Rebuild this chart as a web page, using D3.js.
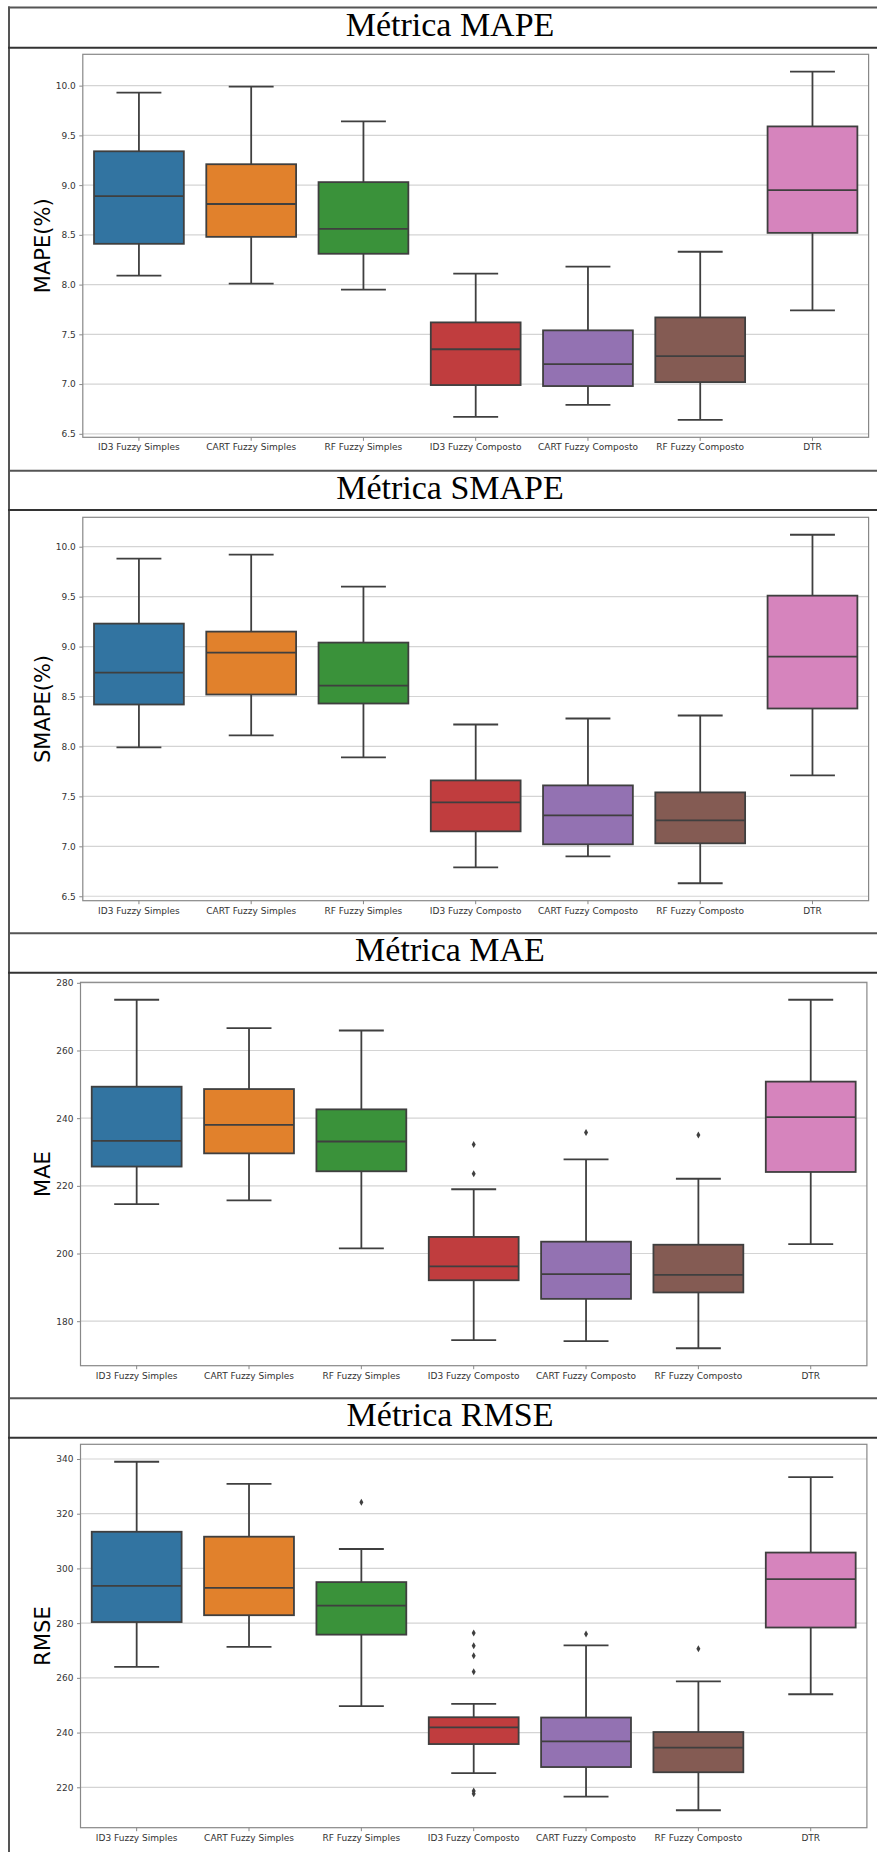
<!DOCTYPE html>
<html>
<head>
<meta charset="utf-8">
<script src="https://cdn.jsdelivr.net/npm/d3@7"></script>
<style>
body { margin: 0; background: #fff; }
svg text { font-family: "DejaVu Sans", sans-serif; }
</style>
</head>
<body>
<svg id="chart" width="877" height="1852"></svg>
<script>
// categories and colours (seaborn deep, desaturated)
var categories = ["ID3 Fuzzy Simples", "CART Fuzzy Simples", "RF Fuzzy Simples",
                  "ID3 Fuzzy Composto", "CART Fuzzy Composto", "RF Fuzzy Composto", "DTR"];
var palette = ["#3274a1", "#e1812c", "#3a923a", "#c03d3e", "#9372b2", "#845b53", "#d684bd"];

var metricTitles = ["Métrica MAPE", "Métrica SMAPE", "Métrica MAE", "Métrica RMSE"];
var metricLabels = ["MAPE(%)", "SMAPE(%)", "MAE", "RMSE"];

// each row: [lower whisker, Q1, median, Q3, upper whisker]
var mapeStats = [
    [8.09, 8.41, 8.89, 9.34, 9.93],
    [8.01, 8.48, 8.81, 9.21, 9.99],
    [7.95, 8.31, 8.56, 9.03, 9.64],
    [6.67, 6.99, 7.35, 7.62, 8.11],
    [6.79, 6.98, 7.20, 7.54, 8.18],
    [6.64, 7.02, 7.28, 7.67, 8.33],
    [7.74, 8.52, 8.95, 9.59, 10.14]
];
var mapeOutliers = [];   // [category index, value]
var mapeTicks = ["6.5", "7.0", "7.5", "8.0", "8.5", "9.0", "9.5", "10.0"];

var smapeStats = [
    [7.99, 8.42, 8.74, 9.23, 9.88],
    [8.11, 8.52, 8.94, 9.15, 9.92],
    [7.89, 8.43, 8.61, 9.04, 9.60],
    [6.79, 7.15, 7.44, 7.66, 8.22],
    [6.90, 7.02, 7.31, 7.61, 8.28],
    [6.63, 7.03, 7.26, 7.54, 8.31],
    [7.71, 8.38, 8.90, 9.51, 10.12]
];
var smapeOutliers = [];
var smapeTicks = ["6.5", "7.0", "7.5", "8.0", "8.5", "9.0", "9.5", "10.0"];

var maeStats = [
    [214.6, 225.7, 233.3, 249.3, 275.0],
    [215.7, 229.6, 238.0, 248.6, 266.6],
    [201.5, 224.3, 233.1, 242.6, 265.9],
    [174.4, 192.1, 196.2, 204.9, 219.0],
    [174.1, 186.6, 193.9, 203.5, 227.8],
    [172.0, 188.5, 193.7, 202.6, 222.1],
    [202.8, 224.1, 240.3, 250.8, 275.0]
];
var maeOutliers = [[3, 232.2], [3, 223.6], [4, 235.8], [5, 235.0]];
var maeTicks = ["180", "200", "220", "240", "260", "280"];

var rmseStats = [
    [264.0, 280.4, 293.6, 313.4, 339.0],
    [271.3, 282.9, 292.9, 311.6, 330.9],
    [249.7, 275.8, 286.4, 295.0, 307.1],
    [225.2, 235.8, 241.9, 245.6, 250.5],
    [216.6, 227.4, 236.8, 245.5, 271.9],
    [211.6, 225.5, 234.5, 240.2, 258.7],
    [254.0, 278.4, 296.1, 305.8, 333.4]
];
var rmseOutliers = [[2, 324.2], [3, 276.4], [3, 271.7], [3, 268.1], [3, 262.2],
                    [3, 218.6], [3, 217.6], [4, 276.0], [5, 270.6]];
var rmseTicks = ["220", "240", "260", "280", "300", "320", "340"];

var allStats = [mapeStats, smapeStats, maeStats, rmseStats];
var allOutliers = [mapeOutliers, smapeOutliers, maeOutliers, rmseOutliers];
var allTicks = [mapeTicks, smapeTicks, maeTicks, rmseTicks];

// page layout of the four framed panels
var panels = [
    {top: 7.5,   sep: 47.7,   y0: 54.3,   y1: 437.3,  x0: 82.8, x1: 868.6},
    {top: 470.7, sep: 510.0,  y0: 517.3,  y1: 900.7,  x0: 82.8, x1: 868.6},
    {top: 933.2, sep: 972.7,  y0: 982.3,  y1: 1365.7, x0: 80.5, x1: 866.9},
    {top: 1398.3, sep: 1437.7, y0: 1444.3, y1: 1827.7, x0: 80.5, x1: 866.9}
];

var lineCol = "#3f3f3f";
var svg = d3.select("#chart");

// outer table-like frame
svg.append("line")
    .attr("x1", 9).attr("x2", 9).attr("y1", 6.5).attr("y2", 1852)
    .attr("stroke", "#555").attr("stroke-width", 2);

function drawPanel(i) {
    var p = panels[i];
    var stats = allStats[i];
    var outliers = allOutliers[i];
    var ticks = allTicks[i].map(Number);

    svg.append("line")
        .attr("x1", 8).attr("x2", 877).attr("y1", p.top).attr("y2", p.top)
        .attr("stroke", "#555").attr("stroke-width", 2);
    svg.append("line")
        .attr("x1", 8).attr("x2", 877).attr("y1", p.sep).attr("y2", p.sep)
        .attr("stroke", "#333").attr("stroke-width", 2);

    svg.append("text")
        .attr("x", 450).attr("y", p.sep - 11.5)
        .attr("text-anchor", "middle")
        .style("font-family", "'Liberation Serif', serif")
        .style("font-size", "34px")
        .attr("fill", "#000")
        .text(metricTitles[i]);

    // y domain like seaborn: data range padded by 5%
    var vals = [];
    stats.forEach(function(s) { vals.push(s[0], s[4]); });
    outliers.forEach(function(o) { vals.push(o[1]); });
    var lo = d3.min(vals), hi = d3.max(vals), pad = (hi - lo) * 0.05;

    var x = d3.scaleBand().domain(categories).range([p.x0, p.x1]).padding(0);
    var y = d3.scaleLinear().domain([lo - pad, hi + pad]).range([p.y1, p.y0]);

    var g = svg.append("g");

    // grid
    g.selectAll(".grid").data(ticks).enter().append("line")
        .attr("x1", p.x0).attr("x2", p.x1)
        .attr("y1", function(d) { return y(d); })
        .attr("y2", function(d) { return y(d); })
        .attr("stroke", "#d4d4d4").attr("stroke-width", 1.2);

    // axes
    var yAxis = d3.axisLeft(y).tickValues(ticks)
        .tickFormat(function(d, k) { return allTicks[i][k]; })
        .tickSize(3.5).tickPadding(3.5);
    var ya = g.append("g").attr("transform", "translate(" + p.x0 + ",0)").call(yAxis);
    var xa = g.append("g").attr("transform", "translate(0," + p.y1 + ")")
        .call(d3.axisBottom(x).tickSize(3.5).tickPadding(3));
    [ya, xa].forEach(function(a) {
        a.select(".domain").remove();
        a.selectAll(".tick line").attr("stroke", "#888");
        a.selectAll(".tick text").attr("fill", "#333").style("font-size", "9px");
    });

    g.append("rect")
        .attr("x", p.x0).attr("y", p.y0)
        .attr("width", p.x1 - p.x0).attr("height", p.y1 - p.y0)
        .attr("fill", "none").attr("stroke", "#888").attr("stroke-width", 1.2);

    var bw = x.bandwidth() * 0.8;
    var boxes = g.selectAll(".box").data(stats).enter().append("g")
        .attr("transform", function(d, k) {
            return "translate(" + (x(categories[k]) + x.bandwidth() / 2) + ",0)";
        });

    boxes.append("line")
        .attr("x1", 0).attr("x2", 0)
        .attr("y1", function(d) { return y(d[4]); })
        .attr("y2", function(d) { return y(d[0]); })
        .attr("stroke", lineCol).attr("stroke-width", 1.8);
    boxes.selectAll(".cap").data(function(d) { return [d[0], d[4]]; }).enter().append("line")
        .attr("x1", -bw / 4).attr("x2", bw / 4)
        .attr("y1", function(d) { return y(d); })
        .attr("y2", function(d) { return y(d); })
        .attr("stroke", lineCol).attr("stroke-width", 1.8);
    boxes.append("rect")
        .attr("x", -bw / 2).attr("width", bw)
        .attr("y", function(d) { return y(d[3]); })
        .attr("height", function(d) { return y(d[1]) - y(d[3]); })
        .attr("fill", function(d, k) { return palette[k]; })
        .attr("stroke", lineCol).attr("stroke-width", 1.8);
    boxes.append("line")
        .attr("x1", -bw / 2).attr("x2", bw / 2)
        .attr("y1", function(d) { return y(d[2]); })
        .attr("y2", function(d) { return y(d[2]); })
        .attr("stroke", lineCol).attr("stroke-width", 1.8);

    // outliers as thin diamonds
    g.selectAll(".flier").data(outliers).enter().append("path")
        .attr("d", "M0,-3.5L2,0L0,3.5L-2,0Z")
        .attr("transform", function(d) {
            return "translate(" + (x(categories[d[0]]) + x.bandwidth() / 2) + "," + y(d[1]) + ")";
        })
        .attr("fill", lineCol);

    svg.append("text")
        .attr("transform", "translate(43," + ((p.y0 + p.y1) / 2) + ") rotate(-90)")
        .attr("text-anchor", "middle").attr("dy", "0.35em")
        .style("font-size", "21px").attr("fill", "#000")
        .text(metricLabels[i]);
}

for (var i = 0; i < panels.length; i++) drawPanel(i);
</script>
</body>
</html>
